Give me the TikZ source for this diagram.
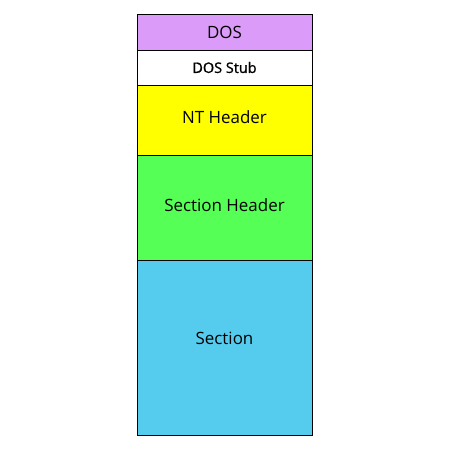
\documentclass[tikz,border=0pt]{standalone}
\usepackage{fontspec}
\setmainfont{Open Sans}
\newfontfamily\semifont{Open Sans}[FakeBold=1.2]
\usetikzlibrary{positioning}

\definecolor{dospurple}{HTML}{DA9BF9}
\definecolor{ntyellow}{HTML}{FFFF00}
\definecolor{shgreen}{HTML}{55FF55}
\definecolor{secblue}{HTML}{55CCEE}

\tikzset{
  part/.style={draw, line width=0.8pt, minimum width=175bp, inner sep=0pt, outer sep=0pt, font=\fontsize{17}{19}\selectfont}
}

\begin{document}
\begin{tikzpicture}[node distance = 0pt]
\useasboundingbox (0,0) rectangle (450bp,-450bp);
\node[part, fill=dospurple, minimum height=36bp, anchor=north west] (dos) at (137bp,-14bp) {\raisebox{-2bp}{DOS}};
\node[part, minimum height=35bp, font=\fontsize{14.5}{16}\semifont] (stub) [below = of dos] {DOS Stub};
\node[part, fill=ntyellow, minimum height=70bp] (nt) [below = of stub] {\raisebox{6bp}{NT Header}};
\node[part, fill=shgreen, minimum height=105bp] (sechdr) [below = of nt] {\raisebox{5bp}{Section Header}};
\node[part, fill=secblue, minimum height=175bp] (sec) [below = of sechdr] {\raisebox{19bp}{Section}};
\end{tikzpicture}
\end{document}
